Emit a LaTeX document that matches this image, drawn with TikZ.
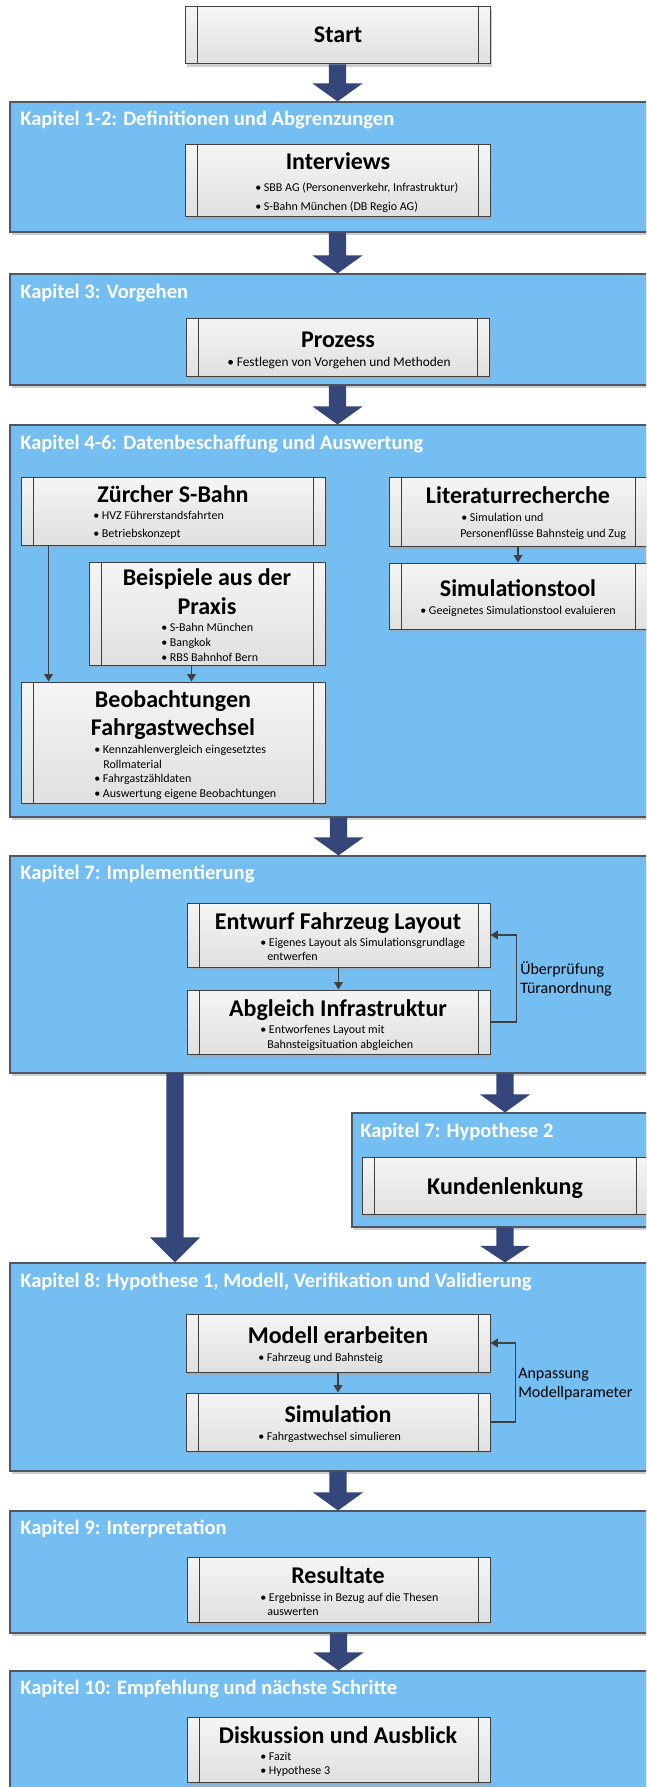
\documentclass[tikz,border=0pt]{standalone}
\usepackage{fontspec}
\setmainfont{Carlito}
\usetikzlibrary{fit,shadows,arrows.meta,calc}

\definecolor{chapfill}{RGB}{116,190,242}
\definecolor{chapline}{RGB}{78,88,100}
\definecolor{boxline}{RGB}{64,64,64}
\definecolor{boxtop}{RGB}{245,245,245}
\definecolor{boxbot}{RGB}{224,224,224}
\definecolor{flow}{RGB}{52,70,122}
\definecolor{link}{RGB}{64,64,64}

\tikzset{
  softshadow/.style={drop shadow={shadow xshift=1.5pt,shadow yshift=-2pt,fill=black!35,opacity=.55}},
  chapter/.style={draw=chapline, line width=0.8pt, fill=chapfill, inner sep=0pt, softshadow},
  procbox/.style={draw=boxline, line width=0.75pt, top color=boxtop, bottom color=boxbot,
    inner sep=0pt, softshadow,
    path picture={\draw[boxline, line width=0.75pt]
      ([xshift=9pt]path picture bounding box.north west) -- ([xshift=9pt]path picture bounding box.south west)
      ([xshift=-9pt]path picture bounding box.north east) -- ([xshift=-9pt]path picture bounding box.south east);}},
  hd/.style={font=\fontsize{18}{21}\selectfont\bfseries, inner sep=0pt, anchor=base},
  ttl/.style={font=\fontsize{15.4}{18}\selectfont\bfseries, text=white, inner sep=0pt, anchor=base west},
  itm/.style={font=\fontsize{9}{11}\selectfont, inner sep=0pt, anchor=base west},
  note/.style={font=\fontsize{12}{14.5}\selectfont, inner sep=0pt, anchor=base west},
  link/.style={draw=link, line width=0.9pt, -{Triangle[length=5.5pt,width=6.5pt]}},
}

% broad flow arrow: #1 top of the shaft, #2 tip, #3 head height
\newcommand\flowarrow[3]{%
  \fill[flow] let \p1=(#1), \p2=(#2) in
    (\x1-6.4pt,\y1) -- (\x1-6.4pt,\y2+#3) -- (\x1-18.75pt,\y2+#3) -- (\x1,\y2)
    -- (\x1+18.75pt,\y2+#3) -- (\x1+6.4pt,\y2+#3) -- (\x1+6.4pt,\y1) -- cycle;}

\begin{document}
\begin{tikzpicture}[x=0.75pt,y=-0.75pt]
\useasboundingbox (0,0) rectangle (646,1787);
\clip (0,0) rectangle (646,1787);

% chapter panels
\node[chapter, fit={(10,102)(662,232)}] (chap1) {};
\node[chapter, fit={(10,274)(662,385)}] (chap2) {};
\node[chapter, fit={(10,425)(662,817)}] (chap3) {};
\node[chapter, fit={(10,856)(662,1073)}] (chap4) {};
\node[chapter, fit={(352,1113)(662,1227)}] (chap5) {};
\node[chapter, fit={(10,1263)(662,1471)}] (chap6) {};
\node[chapter, fit={(10,1511)(662,1633)}] (chap7) {};
\node[chapter, fit={(10,1671)(662,1810)}] (chap8) {};

\node[ttl] (t1) at (20,125.5) {Kapitel 1-2: Definitionen und Abgrenzungen};
\node[ttl] (t2) at (20,298.5) {Kapitel 3: Vorgehen};
\node[ttl] (t3) at (20,449.5) {Kapitel 4-6: Datenbeschaffung und Auswertung};
\node[ttl] (t4) at (20,879.5) {Kapitel 7: Implementierung};
\node[ttl] (t5) at (360,1137.5) {Kapitel 7: Hypothese 2};
\node[ttl] (t6) at (20,1287.5) {Kapitel 8: Hypothese 1, Modell, Verifikation und Validierung};
\node[ttl] (t7) at (20,1534.5) {Kapitel 9: Interpretation};
\node[ttl] (t8) at (20,1694.5) {Kapitel 10: Empfehlung und nächste Schritte};

% process boxes
\node[procbox, fit={(185,7)(490,64)}] (start) {};
\node[hd] (h0) at (338,43) {Start};

\node[procbox, fit={(185,145)(490,217)}] (interviews) {};
\node[hd] (h1) at (338,170) {Interviews};
\node[itm] (i11) at (255,192) {• SBB AG (Personenverkehr, Infrastruktur)};
\node[itm] (i12) at (255,211) {• S-Bahn München (DB Regio AG)};

\node[procbox, fit={(186,318)(489,376)}] (prozess) {};
\node[hd] (h2) at (338,347) {Prozess};
\node[itm, font=\fontsize{10}{12}\selectfont] (i21) at (227,366) {• Festlegen von Vorgehen und Methoden};

\node[procbox, fit={(21,477)(325,545)}] (zuerich) {};
\node[hd] (h3) at (173,502) {Zürcher S-Bahn};
\node[itm] (i31) at (93,519) {• HVZ Führerstandsfahrten};
\node[itm] (i32) at (93,537) {• Betriebskonzept};

\node[procbox, fit={(389,477)(647,546)}] (litr) {};
\node[hd] (h4) at (518,503.5) {Literaturrecherche};
\node[itm] (i41) at (461,521) {• Simulation und};
\node[itm] (i42) at (460,537) {Personenflüsse Bahnsteig und Zug};

\node[procbox, fit={(389,563)(647,629)}] (simt) {};
\node[hd] (h5) at (518,596) {Simulationstool};
\node[itm] (i51) at (420,614) {• Geeignetes Simulationstool evaluieren};

\node[procbox, fit={(89,562)(325,665)}] (beisp) {};
\node[hd] (h6a) at (207,585) {Beispiele aus der};
\node[hd] (h6b) at (207,614) {Praxis};
\node[itm] (i61) at (161,631) {• S-Bahn München};
\node[itm] (i62) at (161,646) {• Bangkok};
\node[itm] (i63) at (161,661) {• RBS Bahnhof Bern};

\node[procbox, fit={(21,682)(325,803)}] (beob) {};
\node[hd] (h7a) at (173,707) {Beobachtungen};
\node[hd] (h7b) at (173,735) {Fahrgastwechsel};
\node[itm] (i71) at (94,753) {• Kennzahlenvergleich eingesetztes};
\node[itm] (i72) at (103,768) {Rollmaterial};
\node[itm] (i73) at (94,782) {• Fahrgastzähldaten};
\node[itm] (i74) at (94,797) {• Auswertung eigene Beobachtungen};

\node[procbox, fit={(187,903)(490,967)}] (entwurf) {};
\node[hd] (h8) at (338,929) {Entwurf Fahrzeug Layout};
\node[itm] (i81) at (260,946) {• Eigenes Layout als Simulationsgrundlage};
\node[itm] (i82) at (267,960) {entwerfen};

\node[procbox, fit={(187,990)(490,1054)}] (abgleich) {};
\node[hd] (h9) at (338,1016) {Abgleich Infrastruktur};
\node[itm] (i91) at (260,1033) {• Entworfenes Layout mit};
\node[itm] (i92) at (267,1048) {Bahnsteigsituation abgleichen};

\node[procbox, fit={(362,1157)(648,1214)}] (kunden) {};
\node[hd] (h14) at (505,1194) {Kundenlenkung};

\node[procbox, fit={(186,1314)(490,1372)}] (modell) {};
\node[hd] (h10) at (338,1343) {Modell erarbeiten};
\node[itm] (i101) at (258,1361) {• Fahrzeug und Bahnsteig};

\node[procbox, fit={(186,1393)(490,1451)}] (simul) {};
\node[hd] (h11) at (338,1422) {Simulation};
\node[itm] (i111) at (258,1440) {• Fahrgastwechsel simulieren};

\node[procbox, fit={(187,1557)(490,1622)}] (result) {};
\node[hd] (h12) at (338,1583) {Resultate};
\node[itm] (i121) at (260,1601) {• Ergebnisse in Bezug auf die Thesen};
\node[itm] (i122) at (267,1615) {auswerten};

\node[procbox, fit={(187,1717)(490,1782)}] (disk) {};
\node[hd] (h13) at (338,1743) {Diskussion und Ausblick};
\node[itm] (i131) at (260,1760) {• Fazit};
\node[itm] (i132) at (260,1774) {• Hypothese 3};

% thin links inside the panels
\draw[link] (litr.south) -- (simt.north);
\draw[link] ([xshift=21pt]zuerich.south west) -- ([xshift=21pt]zuerich.south west |- beob.north);
\draw[link] ([xshift=77.25pt]beisp.south west) -- ([xshift=77.25pt]beisp.south west |- beob.north);
\draw[link] (entwurf.south) -- (abgleich.north);
\draw[link] (abgleich.east) -- ++(26,0) |- (entwurf.east);
\node[note] (n1a) at (520,974) {Überprüfung};
\node[note] (n1b) at (520,993) {Türanordnung};
\draw[link] (modell.south) -- (simul.north);
\draw[link] (simul.east) -- ++(25,0) |- (modell.east);
\node[note] (n2a) at (518,1378) {Anpassung};
\node[note] (n2b) at (518,1397) {Modellparameter};

% broad flow arrows between the stages
\flowarrow{start.south}{start.south |- chap1.north}{13.5pt}
\flowarrow{interviews.south |- chap1.south}{interviews.south |- chap2.north}{13.5pt}
\flowarrow{prozess.south |- chap2.south}{prozess.south |- chap3.north}{13.5pt}
\flowarrow{entwurf.north |- chap3.south}{entwurf.north |- chap4.north}{13.5pt}
\coordinate (leftflow) at (175,1073);
\flowarrow{leftflow}{leftflow |- chap6.north}{18.75pt}
\flowarrow{kunden.north |- chap4.south}{kunden.north |- chap5.north}{13.5pt}
\flowarrow{kunden.south |- chap5.south}{kunden.south |- chap6.north}{12.5pt}
\flowarrow{modell.south |- chap6.south}{modell.south |- chap7.north}{13.5pt}
\flowarrow{result.south |- chap7.south}{result.south |- chap8.north}{13.5pt}
\end{tikzpicture}
\end{document}
